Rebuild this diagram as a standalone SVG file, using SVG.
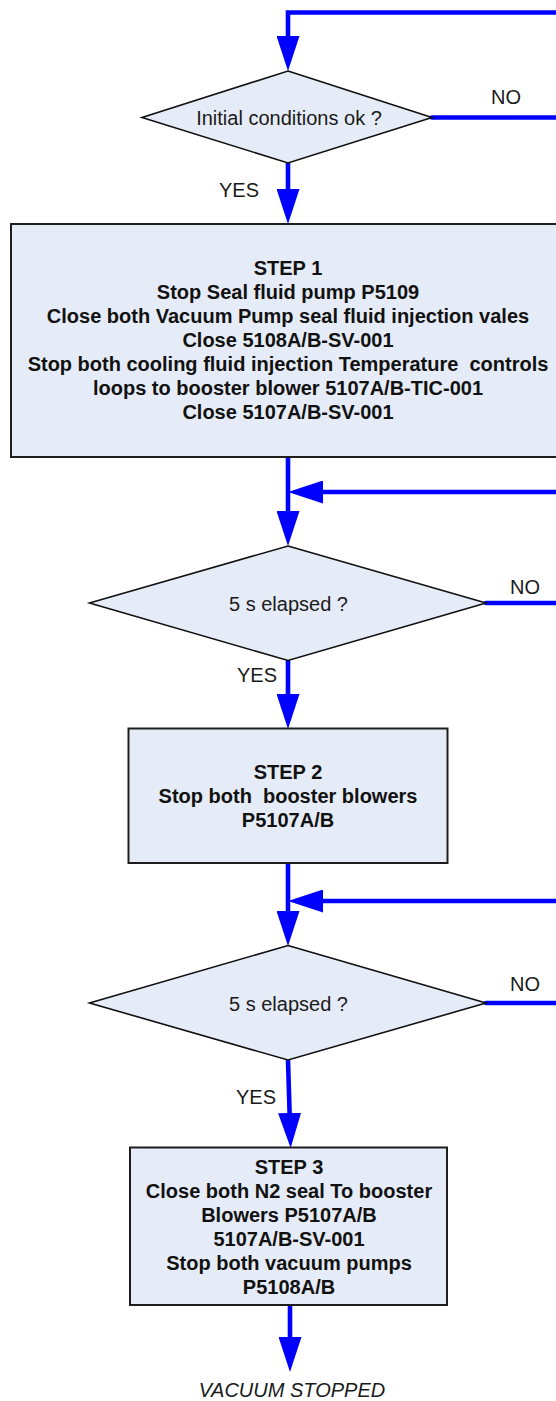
<svg xmlns="http://www.w3.org/2000/svg" width="556" height="1401" viewBox="0 0 556 1401">
  <style>
    .bg { fill: #ffffff; }
    .box { fill: #e6ecf7; stroke: #1e1e1e; stroke-width: 2; }
    .dec { fill: #e6ecf7; stroke: #111111; stroke-width: 1.6; stroke-linejoin: miter; }
    .flow { fill: none; stroke: #0000ff; stroke-width: 4.6; stroke-linecap: round; stroke-linejoin: miter; }
    .lbl { font-family: "Liberation Sans", Arial, sans-serif; font-size: 20px; fill: #1a1a1a; }
    .step { font-family: "Liberation Sans", Arial, sans-serif; font-size: 20px; font-weight: bold; fill: #111111; text-anchor: middle; }
    .mid { text-anchor: middle; }
    .end { font-family: "Liberation Sans", Arial, sans-serif; font-size: 20px; font-style: italic; fill: #1a1a1a; text-anchor: middle; }
  </style>
  <defs>
    <marker id="arrow" viewBox="0 0 35 23" markerWidth="35" markerHeight="23" refX="0" refY="11.5" orient="auto" markerUnits="userSpaceOnUse">
      <path d="M0,0 L35,11.5 L0,23 Z" fill="#0000ff"/>
    </marker>
  </defs>

  <rect class="bg" x="0" y="0" width="556" height="1401"/>

  <!-- connectors -->
  <g id="connectors">
    <path class="flow" d="M 562 12.5 H 288 V 36" marker-end="url(#arrow)"/>
    <path class="flow" d="M 432 117.5 H 562"/>
    <path class="flow" d="M 288 163 V 189" marker-end="url(#arrow)"/>
    <path class="flow" d="M 288 457 V 511" marker-end="url(#arrow)"/>
    <path class="flow" d="M 562 492 H 323" marker-end="url(#arrow)"/>
    <path class="flow" d="M 486 603 H 562"/>
    <path class="flow" d="M 288 661 V 694" marker-end="url(#arrow)"/>
    <path class="flow" d="M 288 863 V 911" marker-end="url(#arrow)"/>
    <path class="flow" d="M 562 901 H 323" marker-end="url(#arrow)"/>
    <path class="flow" d="M 486 1003 H 562"/>
    <path class="flow" d="M 288 1060 L 289.6 1113" marker-end="url(#arrow)"/>
    <path class="flow" d="M 290 1305 V 1337" marker-end="url(#arrow)"/>
  </g>

  <!-- edge labels -->
  <g id="labels">
    <text class="lbl" x="491" y="104">NO</text>
    <text class="lbl" x="219" y="197">YES</text>
    <text class="lbl" x="510" y="594">NO</text>
    <text class="lbl" x="237" y="682">YES</text>
    <text class="lbl" x="510" y="991">NO</text>
    <text class="lbl" x="236" y="1104">YES</text>
  </g>

  <g id="check-initial">
    <polygon class="dec" points="288,71 432,117.5 288,163 142,117.5"/>
    <text class="lbl mid" x="289" y="125">Initial conditions ok ?</text>
  </g>

  <g id="step1">
    <rect class="box" x="11" y="224" width="560" height="233"/>
    <text class="step" x="288" y="275" xml:space="preserve">STEP 1</text>
    <text class="step" x="288" y="299">Stop Seal fluid pump P5109</text>
    <text class="step" x="288" y="323">Close both Vacuum Pump seal fluid injection vales</text>
    <text class="step" x="288" y="347">Close 5108A/B-SV-001</text>
    <text class="step" x="288" y="371" xml:space="preserve">Stop both cooling fluid injection Temperature  controls</text>
    <text class="step" x="288" y="395">loops to booster blower 5107A/B-TIC-001</text>
    <text class="step" x="288" y="419">Close 5107A/B-SV-001</text>
  </g>

  <g id="wait1">
    <polygon class="dec" points="288,546 486,603 288,660.5 89.5,603"/>
    <text class="lbl mid" x="288.5" y="611">5 s elapsed ?</text>
  </g>

  <g id="step2">
    <rect class="box" x="128.5" y="728.5" width="319" height="134.5"/>
    <text class="step" x="288" y="779">STEP 2</text>
    <text class="step" x="288" y="803" xml:space="preserve">Stop both  booster blowers</text>
    <text class="step" x="288" y="827">P5107A/B</text>
  </g>

  <g id="wait2">
    <polygon class="dec" points="288,945.5 486,1003 288,1060 89.5,1003"/>
    <text class="lbl mid" x="288.5" y="1011">5 s elapsed ?</text>
  </g>

  <g id="step3">
    <rect class="box" x="130" y="1147.5" width="317" height="157.5"/>
    <text class="step" x="289" y="1174">STEP 3</text>
    <text class="step" x="289" y="1198">Close both N2 seal To booster</text>
    <text class="step" x="289" y="1222">Blowers P5107A/B</text>
    <text class="step" x="289" y="1246">5107A/B-SV-001</text>
    <text class="step" x="289" y="1270">Stop both vacuum pumps</text>
    <text class="step" x="289" y="1294">P5108A/B</text>
  </g>

  <g id="vacuum-stopped">
    <text class="end" x="292" y="1397">VACUUM STOPPED</text>
  </g>
</svg>
